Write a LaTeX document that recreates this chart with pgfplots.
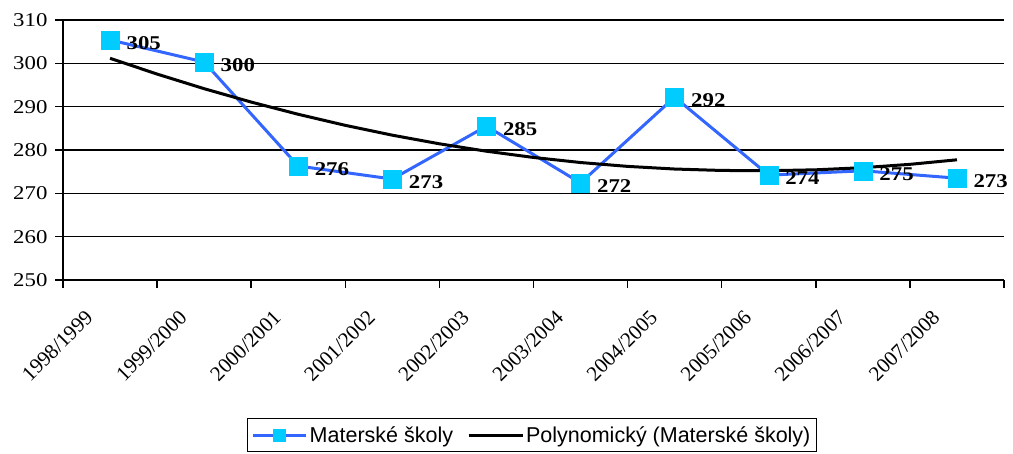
\documentclass[border=0pt]{standalone}
\usepackage{pgfplots}
\pgfplotsset{compat=1.18}
\usepackage{pgfplotstable}
\usepackage{fontspec}
\setmainfont{Liberation Serif}
\newfontfamily\numfont[FakeStretch=1.17]{Liberation Serif}
\newfontfamily\arialfont{Liberation Sans}
\definecolor{lineblue}{RGB}{51,102,255}
\definecolor{markcyan}{RGB}{0,204,255}

\pgfplotsset{
  legmark/.style={legend image code/.code={\draw[##1, mark repeat=2, mark phase=2, mark size=6pt] plot coordinates {(0pt,0pt)(26.5pt,0pt)(53pt,0pt)};}},
  legline/.style={legend image code/.code={\draw[##1] (0pt,0pt) -- (54pt,0pt);}},
}

\pgfplotstableread{
x y lab
0 305.4 305
1 300.3 300
2 276.3 276
3 273.3 273
4 285.5 285
5 272.4 272
6 292.2 292
7 274.2 274
8 275.2 275
9 273.5 273
}\datatable

\pgfplotstableread{
x y
0 301.17
0.5 297.52
1 294.15
1.5 291.06
2 288.24
2.5 285.69
3 283.42
3.5 281.43
4 279.72
4.5 278.28
5 277.11
5.5 276.22
6 275.61
6.5 275.28
7 275.22
7.5 275.43
8 275.92
8.5 276.69
9 277.74
}\trendtable

\begin{document}
\begin{tikzpicture}
\begin{axis}[
  name=ax,
  scale only axis,
  width=941pt, height=260pt,
  xmin=-0.5, xmax=9.5,
  ymin=250, ymax=310,
  ytick={250,260,...,310},
  axis x line=bottom, axis y line=left,
  axis line style={-, line width=1.5pt},
  ymajorgrids,
  grid style={black, line width=1.5pt},
  xtick={0,...,9},
  xticklabels={1998/1999,1999/2000,2000/2001,2001/2002,2002/2003,2003/2004,2004/2005,2005/2006,2006/2007,2007/2008},
  minor xtick={-0.5,0.5,...,9.5},
  major x tick style={draw=none},
  minor x tick style={black, line width=1.5pt},
  ytick style={black, line width=1.5pt},
  tick align=outside,
  major tick length=8pt,
  minor tick length=8pt,
  /pgf/number format/assume math mode=true,
  yticklabel style={font=\numfont\fontsize{19.5}{22}\selectfont, xshift=-4pt},
  xticklabel style={font=\fontsize{21}{25}\selectfont, xshift=-26pt, yshift=-16pt, rotate=45, anchor=north east},
  clip=false,
  legend columns=2,
  legend style={at={(0.4985,-0.5308)}, anchor=north, draw=black, line width=1pt,
    font=\arialfont\fontsize{21.5}{25}\selectfont, inner xsep=4pt, inner ysep=6pt,
    /tikz/every even column/.append style={column sep=12pt}},
]
\addplot[lineblue, line width=3pt, mark=square*, mark size=9pt,
  mark options={fill=markcyan, draw=markcyan, line width=0.5pt},
  nodes near coords, point meta=explicit symbolic,
  nodes near coords style={font=\numfont\bfseries\fontsize{19.5}{22}\selectfont, black, anchor=west, xshift=13pt, yshift=-3pt},
  legmark
] table[x=x, y=y, meta=lab] {\datatable};
\addlegendentry{Materské školy}
\addplot[black, line width=3pt, no marks, legline] table[x=x, y=y] {\trendtable};
\addlegendentry{Polynomický (Materské školy)}
\end{axis}
\pgfresetboundingbox
\path[use as bounding box] ([xshift=-63pt,yshift=-174pt]ax.south west) rectangle ([xshift=9pt,yshift=20pt]ax.north east);
\end{tikzpicture}
\end{document}
